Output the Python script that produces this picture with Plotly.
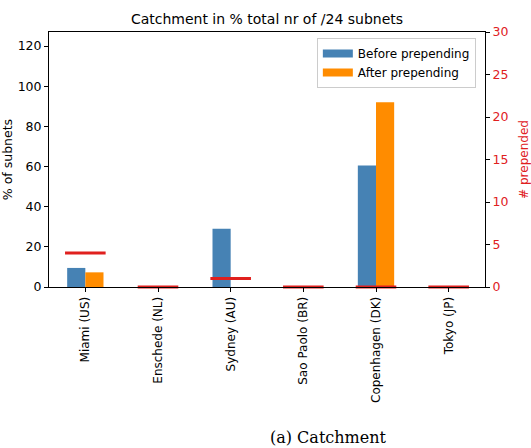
import plotly.graph_objects as go

categories = ["Miami (US)", "Enschede (NL)", "Sydney (AU)", "Sao Paolo (BR)", "Copenhagen (DK)", "Tokyo (JP)"]
before = [9.5, 0, 29, 0, 60.5, 0]
after = [7.3, 0, 0, 0, 92, 0]
prepended = [4, 0, 1, 0, 0, 0]
left_ticks = [0, 20, 40, 60, 80, 100, 120]
right_ticks = [0, 5, 10, 15, 20, 25, 30]

BLUE = "#4682B4"
ORANGE = "#FF8C00"
RED = "#E0201E"
FONT = "DejaVu Sans"

idx = list(range(len(categories)))

fig = go.Figure()
fig.add_trace(go.Bar(x=idx, y=before, name="Before prepending", showlegend=False,
                     marker=dict(color=BLUE, line=dict(width=0))))
fig.add_trace(go.Bar(x=idx, y=after, name="After prepending", showlegend=False,
                     marker=dict(color=ORANGE, line=dict(width=0))))
# legend-only entries drawn as wide patches like matplotlib's
fig.add_trace(go.Scatter(x=[None], y=[None], mode="lines", name="Before prepending",
                         line=dict(color=BLUE, width=8)))
fig.add_trace(go.Scatter(x=[None], y=[None], mode="lines", name="After prepending",
                         line=dict(color=ORANGE, width=8)))
fig.add_trace(go.Scatter(x=idx, y=prepended, yaxis="y2", mode="markers", showlegend=False,
                         cliponaxis=False,
                         marker=dict(symbol="line-ew", size=29, color=RED, line=dict(color=RED, width=3))))

fig.update_layout(
    width=531, height=448,
    margin=dict(l=49, r=46, t=32, b=161),
    paper_bgcolor="white", plot_bgcolor="white",
    font=dict(family=FONT, size=12, color="black"),
    barmode="group", bargap=0.5, bargroupgap=0,
    title=dict(text="Catchment in % total nr of /24 subnets", x=0.5, xref="paper", xanchor="center",
               y=1 - 19 / 448, yanchor="middle", font=dict(size=14, family=FONT, color="black")),
    xaxis=dict(range=[-0.5, 5.5], tickvals=idx, ticktext=categories, tickangle=-90, automargin=False,
               showline=True, linecolor="black", linewidth=1, mirror=True,
               ticks="outside", ticklen=4, tickcolor="black", showgrid=False, zeroline=False,
               tickfont=dict(size=12)),
    yaxis=dict(range=[0, 127], tickvals=left_ticks, showline=True, linecolor="black", linewidth=1,
               automargin=False,
               ticks="outside", ticklen=4, tickcolor="black", showgrid=False, zeroline=False,
               title=dict(text="% of subnets", font=dict(size=12.5)), tickfont=dict(size=12.5)),
    yaxis2=dict(range=[0, 30], tickvals=right_ticks, overlaying="y", side="right", automargin=False,
                showline=True, linecolor="black", linewidth=1,
                ticks="outside", ticklen=4, tickcolor="black", showgrid=False, zeroline=False,
                tickfont=dict(size=12.5, color=RED),
                title=dict(text="# prepended", font=dict(size=12, color=RED))),
    legend=dict(x=0.979, y=0.976, xanchor="right", yanchor="top", bgcolor="white",
                bordercolor="#cccccc", borderwidth=1, font=dict(size=12), tracegroupgap=0,
                itemwidth=30),
    annotations=[dict(text="(a) Catchment", xref="paper", yref="paper", x=0.64, y=(287 - 437) / 255,
                      xanchor="center", yanchor="middle", showarrow=False,
                      font=dict(family="DejaVu Serif", size=16, color="black"))],
)

fig.write_html("out.html")
